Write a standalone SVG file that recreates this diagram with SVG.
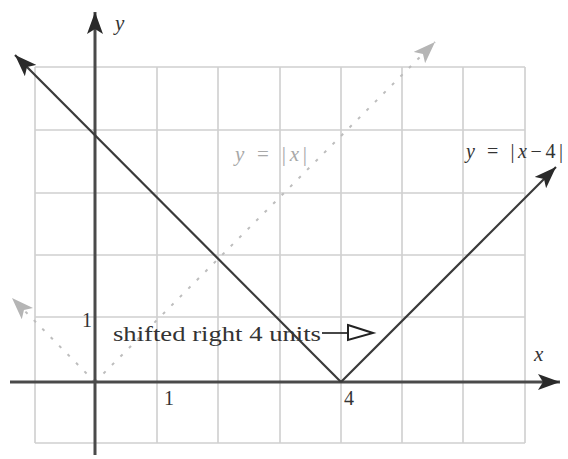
<svg xmlns="http://www.w3.org/2000/svg" width="568" height="459" viewBox="0 0 568 459">
<defs>
<style>
.grid{stroke:#cfcfcf;stroke-width:1.6;fill:none}
.axis{stroke:#4a4a4a;stroke-width:3;fill:none}
.graph{stroke:#3a3a3a;stroke-width:2.2;fill:none}
.ghost{stroke:#bdbdbd;stroke-width:2;fill:none;stroke-dasharray:3 9}
.t{font-family:"Liberation Serif",serif;fill:#333}
.it{font-style:italic}
</style>
<marker id="ah" markerWidth="24" markerHeight="16" refX="22" refY="8" orient="auto" markerUnits="userSpaceOnUse">
<path d="M0,0 L22,8 L0,16 L5,8 Z" fill="#2a2a2a"/>
</marker>
<marker id="ahg" markerWidth="24" markerHeight="16" refX="22" refY="8" orient="auto" markerUnits="userSpaceOnUse">
<path d="M0,0 L22,8 L0,16 L5,8 Z" fill="#b5b5b5"/>
</marker>
</defs>
<rect width="568" height="459" fill="#fff"/>
<g id="grid" class="grid">
<path d="M35,67V443M157,67V443M218,67V443M280,67V443M341,67V443M402,67V443M463,67V443M525,67V443"/>
<path d="M35,67H525M35,130H525M35,193H525M35,255H525M35,317H525M35,443H525"/>
</g>
<g id="connectors">
<line class="ghost" x1="95" y1="382" x2="435" y2="42" marker-end="url(#ahg)"/>
<line class="ghost" x1="95" y1="382" x2="12" y2="298" marker-end="url(#ahg)"/>
<line class="axis" x1="10" y1="382" x2="560" y2="382" marker-end="url(#ah)"/>
<line class="axis" x1="95" y1="455" x2="95" y2="12" marker-end="url(#ah)"/>
<line class="graph" x1="341" y1="382" x2="15" y2="55" marker-end="url(#ah)"/>
<line class="graph" x1="341" y1="382" x2="556" y2="167" marker-end="url(#ah)"/>
<line x1="322" y1="333" x2="348" y2="333" stroke="#333" stroke-width="1.8"/>
<path d="M348,325 L373,333 L348,340 Z" fill="#fff" stroke="#222" stroke-width="2"/>
</g>
<g id="labels">
<text class="t it" x="115" y="30" font-size="21">y</text>
<text class="t it" x="534" y="361" font-size="21">x</text>
<text class="t" x="82" y="327" font-size="20">1</text>
<text class="t" x="164" y="405" font-size="20">1</text>
<text class="t" x="344" y="405" font-size="20">4</text>
<text class="t" x="235" y="161" font-size="21" style="fill:#a8a8a8" textLength="72" lengthAdjust="spacing"><tspan font-style="italic">y</tspan> = |<tspan font-style="italic">x</tspan>|</text>
<text class="t" x="466" y="158" font-size="20" textLength="97" lengthAdjust="spacing"><tspan font-style="italic">y</tspan> = |<tspan font-style="italic">x</tspan>−4|</text>
<text class="t" x="113" y="341" font-size="21" textLength="208" lengthAdjust="spacingAndGlyphs">shifted right 4 units</text>
</g>
</svg>
